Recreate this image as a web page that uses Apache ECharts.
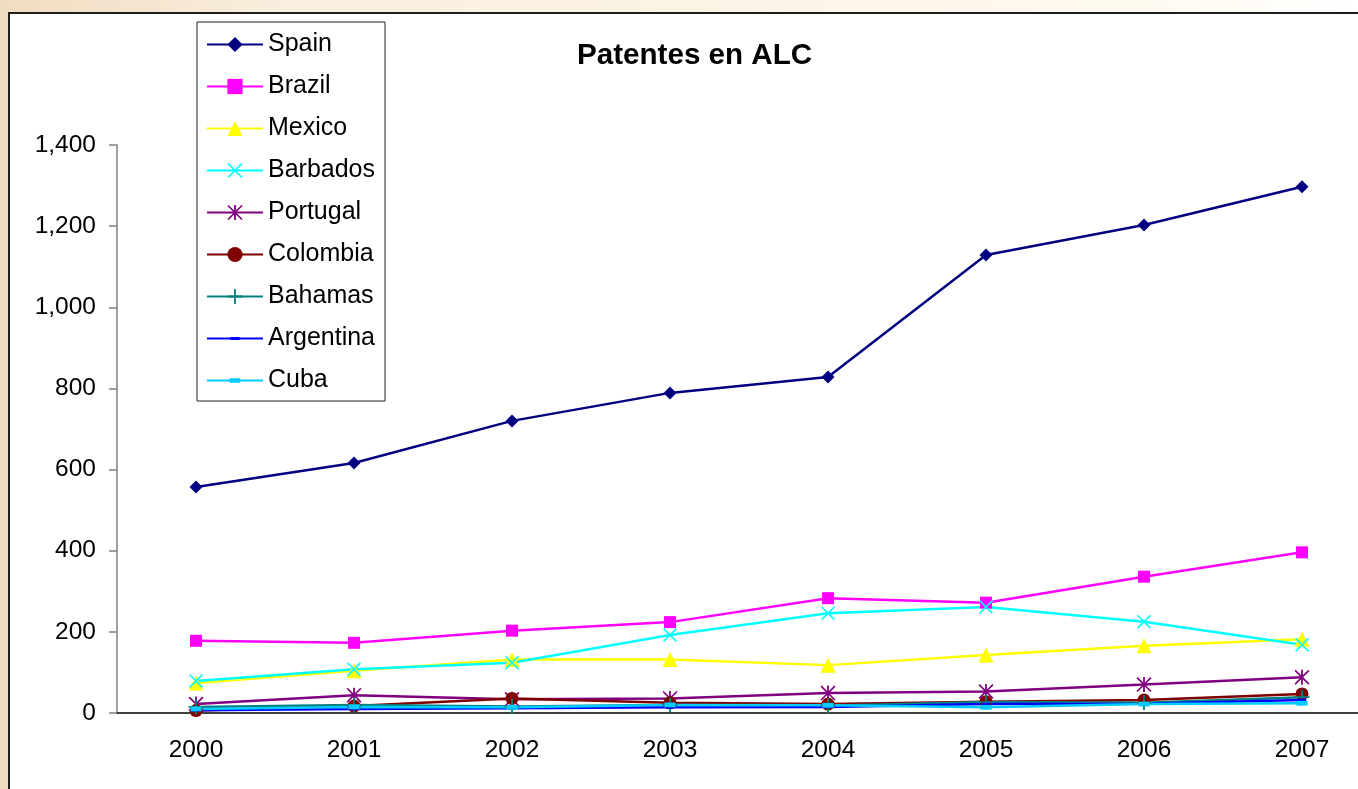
<!DOCTYPE html>
<html>
<head>
<meta charset="utf-8">
<title>Patentes en ALC</title>
<script src="https://cdn.jsdelivr.net/npm/echarts@6/dist/echarts.min.js"></script>
<style>
    html, body {
        margin: 0;
        padding: 0;
        width: 1358px;
        height: 789px;
        overflow: hidden;
        position: relative;
        background: linear-gradient(to right, #f1dcc0 0%, #f9eedd 20%, #fcf4e6 55%, #fffaf0 85%, #ffffff 100%);
    }
    #box {
        position: absolute;
        left: 8px;
        top: 12px;
        width: 1400px;
        height: 800px;
        background: #ffffff;
        border: 2px solid #1e1e1e;
    }
    /* the plot runs past the right edge of the picture, so the chart is wider than the window */
    #myChart {
        position: absolute;
        left: 0;
        top: 0;
        width: 1420px;
        height: 789px;
    }
</style>
</head>
<body>
<div id="box"></div>
<div id="myChart"></div>

<script>
    // values
    var years = ['2000', '2001', '2002', '2003', '2004', '2005', '2006', '2007']
    var spain = [557, 616, 720, 789, 828, 1129, 1203, 1297]
    var brazil = [178, 173, 203, 224, 283, 272, 336, 396]
    var mexico = [74, 104, 132, 132, 118, 143, 166, 182]
    var barbados = [79, 108, 124, 192, 246, 261, 225, 168]
    var portugal = [22, 44, 34, 36, 49, 53, 70, 88]
    var colombia = [6, 17, 36, 25, 22, 28, 32, 47]
    var bahamas = [15, 20, 16, 20, 18, 27, 25, 39]
    var argentina = [7, 10, 12, 14, 15, 22, 23, 32]
    var cuba = [10, 15, 14, 20, 19, 14, 22, 24]

    // excel style markers
    var xMark = 'path://M0.8,0L10,9.2L9.2,10L0,0.8ZM9.2,0L10,0.8L0.8,10L0,9.2Z'
    var starMark = 'path://M0.8,0L10,9.2L9.2,10L0,0.8ZM9.2,0L10,0.8L0.8,10L0,9.2ZM4.4,0L5.6,0L5.6,10L4.4,10Z'
    var plusMark = 'path://M4.4,0L5.6,0L5.6,10L4.4,10ZM0,4.4L10,4.4L10,5.6L0,5.6Z'
    var shortDash = 'path://M0,0M10,10M2,4L8,4L8,6L2,6Z'
    var dash = 'path://M0,0M10,10M1.5,3.5L8.5,3.5L8.5,6.5L1.5,6.5Z'

    function line(name, data, color, symbol, size) {
        return {
            name: name,
            type: 'line',
            data: data,
            color: color,
            symbol: symbol,
            symbolSize: size,
            symbolKeepAspect: true,
            showAllSymbol: true,
            animation: false,
            lineStyle: { width: 2.5, color: color },
            itemStyle: { color: color }
        }
    }

    var myChart = echarts.init(document.getElementById('myChart'))
    myChart.setOption({
        backgroundColor: 'transparent',
        animation: false,
        title: {
            text: 'Patentes en ALC',
            left: 577,
            top: 41,
            padding: 0,
            textStyle: {
                fontFamily: 'Liberation Sans, Arial',
                fontSize: 29.6,
                fontWeight: 'bold',
                color: '#000'
            }
        },
        legend: {
            orient: 'vertical',
            left: 197,
            top: 22,
            padding: [10, 10, 8, 9],
            itemGap: 17,
            itemWidth: 56,
            itemHeight: 19,
            backgroundColor: '#fff',
            borderColor: '#222',
            borderWidth: 1,
            lineStyle: { width: 2 },
            textStyle: {
                fontFamily: 'Liberation Sans, Arial',
                fontSize: 25,
                color: '#000'
            }
        },
        grid: {
            left: 117,
            top: 145,
            width: 1264,
            height: 568,
            containLabel: false
        },
        xAxis: {
            type: 'category',
            data: years,
            boundaryGap: true,
            axisLine: { lineStyle: { color: '#000', width: 1.5 } },
            axisTick: { length: 8, lineStyle: { color: '#808080', width: 1.5 } },
            axisLabel: {
                margin: 25,
                fontFamily: 'Liberation Sans, Arial',
                fontSize: 24.5,
                color: '#000'
            },
            splitLine: { show: false }
        },
        yAxis: {
            type: 'value',
            min: 0,
            max: 1400,
            interval: 200,
            axisLine: { show: true, lineStyle: { color: '#808080', width: 1.5 } },
            axisTick: { show: true, length: 8, lineStyle: { color: '#808080', width: 1.5 } },
            axisLabel: {
                margin: 21,
                fontFamily: 'Liberation Sans, Arial',
                fontSize: 24.5,
                color: '#000',
                formatter: function (v) { return v.toLocaleString('en-US') }
            },
            splitLine: { show: false }
        },
        series: [
            line('Spain', spain, '#000080', 'diamond', 13),
            line('Brazil', brazil, '#ff00ff', 'rect', 12),
            line('Mexico', mexico, '#ffff00', 'triangle', 15),
            line('Barbados', barbados, '#00ffff', xMark, 14),
            line('Portugal', portugal, '#800080', starMark, 15),
            line('Colombia', colombia, '#800000', 'circle', 13),
            line('Bahamas', bahamas, '#008080', plusMark, 15),
            line('Argentina', argentina, '#0000ff', shortDash, 14),
            line('Cuba', cuba, '#00ccff', dash, 16)
        ]
    })
</script>
</body>
</html>
